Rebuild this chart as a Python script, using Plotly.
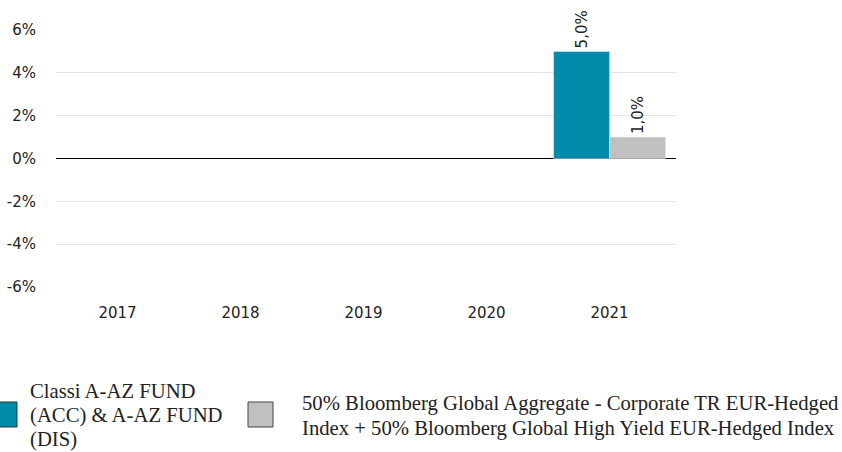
import plotly.graph_objects as go

years = ["2017", "2018", "2019", "2020", "2021"]
fund_values = [None, None, None, None, 5.0]
index_values = [None, None, None, None, 1.0]
fund_name_lines = ["Classi A-AZ FUND", "(ACC) & A-AZ FUND", "(DIS)"]
index_name_lines = ["50% Bloomberg Global Aggregate - Corporate TR EUR-Hedged",
                    "Index + 50% Bloomberg Global High Yield EUR-Hedged Index"]
y_ticks = [-6, -4, -2, 0, 2, 4, 6]

TEAL = "#008BAA"
GREY = "#C0C0C0"

W, H = 842, 452
L, R, T, B = 56, 166, 30, 165
PW, PH = W - L - R, H - T - B


def px(x):
    return (x - L) / PW


def py(y):
    return (H - B - y) / PH


def fmt(v):
    return "" if v is None else f"{v:.1f}%".replace(".", ",")


fig = go.Figure()
fig.add_trace(go.Bar(x=years, y=fund_values, marker_color=TEAL, name="fund",
                     text=[fmt(v) for v in fund_values], textposition="outside",
                     textangle=-90, cliponaxis=False,
                     textfont=dict(family="DejaVu Sans", size=15, color="#222")))
fig.add_trace(go.Bar(x=years, y=index_values, marker_color=GREY, name="index",
                     text=[fmt(v) for v in index_values], textposition="outside",
                     textangle=-90, cliponaxis=False,
                     textfont=dict(family="DejaVu Sans", size=15, color="#222")))

fig.update_layout(
    width=W, height=H,
    margin=dict(l=L, r=R, t=T, b=B, autoexpand=False),
    plot_bgcolor="white", paper_bgcolor="white",
    barmode="group", bargap=0.09, bargroupgap=0,
    showlegend=False,
    font=dict(family="DejaVu Sans", size=15, color="#222"),
)
fig.update_yaxes(range=[-6, 6], tickvals=y_ticks, ticktext=[f"{v}%" for v in y_ticks],
                 showgrid=True, gridcolor="#e3e3e3", gridwidth=1,
                 zeroline=True, zerolinecolor="#000", zerolinewidth=1,
                 ticks="outside", ticklen=16, tickcolor="rgba(0,0,0,0)")
fig.update_xaxes(range=[-0.5, len(years) - 0.46],
                 ticks="outside", ticklen=12, tickcolor="rgba(0,0,0,0)",
                 showgrid=False, showline=False)

# custom legend
fig.add_shape(type="rect", xref="paper", yref="paper",
              x0=px(-1), x1=px(17), y0=py(402), y1=py(427),
              fillcolor=TEAL, line=dict(color="#333", width=1))
fig.add_shape(type="rect", xref="paper", yref="paper",
              x0=px(248), x1=px(273), y0=py(402), y1=py(427),
              fillcolor=GREY, line=dict(color="#444", width=1))

legend_font = dict(family="Liberation Serif", size=20.7, color="#222")
for i, line in enumerate(fund_name_lines):
    fig.add_annotation(xref="paper", yref="paper", x=px(28), y=py(391 + 24 * i),
                       xanchor="left", yanchor="middle", showarrow=False,
                       text=line, font=legend_font)
for i, line in enumerate(index_name_lines):
    fig.add_annotation(xref="paper", yref="paper", x=px(300), y=py(403 + 25 * i),
                       xanchor="left", yanchor="middle", showarrow=False,
                       text=line, font=legend_font)

fig.write_html("out.html", config={"displayModeBar": False},
               post_script="document.body.style.margin='0';document.body.style.overflow='hidden';")
